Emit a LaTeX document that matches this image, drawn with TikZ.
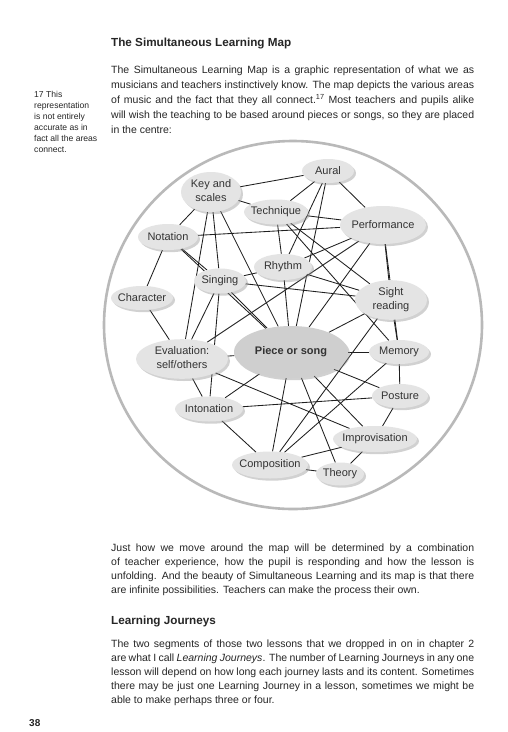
\documentclass[tikz,border=0pt]{standalone}
\usepackage{fontspec}
\setmainfont{Liberation Sans}
\usetikzlibrary{shapes.geometric,shadows,backgrounds}

\definecolor{nodefill}{HTML}{E4E4E4}
\definecolor{piecefill}{HTML}{CFCFCF}
\definecolor{ringcol}{HTML}{B9B9B9}
\definecolor{txt}{HTML}{262626}
\definecolor{lbl}{HTML}{333333}

\newcommand{\jl}[1]{\makebox[363pt][s]{#1}}
\newcommand{\zw}[1]{\makebox[0pt]{#1}}
\newcommand{\twol}[2]{\makebox[0pt]{\begin{tabular}{@{}c@{}}#1\\#2\end{tabular}}}

\tikzset{
  area/.style={ellipse, fill=nodefill, inner sep=0pt, text=lbl,
    font=\fontsize{11}{14}\selectfont,
    drop shadow={shadow xshift=2pt, shadow yshift=-2.2pt, fill=black!45, opacity=0.4}},
  link/.style={draw=black!88, line width=0.85pt},
  ring/.style={draw=ringcol, line width=2.6pt},
  body/.style={anchor=base west, inner sep=0pt, text=txt, font=\fontsize{10.5}{13}\selectfont},
  head/.style={anchor=base west, inner sep=0pt, text=txt, font=\fontsize{11.7}{14}\selectfont\bfseries},
  note/.style={anchor=base west, inner sep=0pt, text=txt, font=\fontsize{8.6}{10}\selectfont},
}

\begin{document}
\begin{tikzpicture}[x=1pt,y=-1pt]
\useasboundingbox (0,0) rectangle (508,732);

% ---------- text ----------
\node[head] (h1) at (111,46.5) {The Simultaneous Learning Map};
\node[body] (p1a) at (111,73) {\jl{The Simultaneous Learning Map is a graphic representation of what we as}};
\node[body] (p1b) at (111,88) {\jl{musicians and teachers instinctively know. The map depicts the various areas}};
\node[body] (p1c) at (111,103) {\jl{of music and the fact that they all connect.\textsuperscript{17} Most teachers and pupils alike}};
\node[body] (p1d) at (111,118) {\jl{will wish the teaching to be based around pieces or songs, so they are placed}};
\node[body] (p1e) at (111,133) {in the centre:};

\node[note] (n1) at (34,97) {17 This};
\node[note] (n2) at (34,108) {representation};
\node[note] (n3) at (34,119) {is not entirely};
\node[note] (n4) at (34,130) {accurate as in};
\node[note] (n5) at (34,141) {fact all the areas};
\node[note] (n6) at (34,152) {connect.};

\node[body] (p2a) at (111,551) {\jl{Just how we move around the map will be determined by a combination}};
\node[body] (p2b) at (111,565) {\jl{of teacher experience, how the pupil is responding and how the lesson is}};
\node[body] (p2c) at (111,579) {\jl{unfolding. And the beauty of Simultaneous Learning and its map is that there}};
\node[body] (p2d) at (111,593) {are infinite possibilities. Teachers can make the process their own.};

\node[head] (h2) at (111,624.5) {Learning Journeys};

\node[body] (p3a) at (111,647) {\jl{The two segments of those two lessons that we dropped in on in chapter 2}};
\node[body] (p3b) at (111,661) {\jl{are what I call \textit{Learning Journeys}. The number of Learning Journeys in any one}};
\node[body] (p3c) at (111,675) {\jl{lesson will depend on how long each journey lasts and its content. Sometimes}};
\node[body] (p3d) at (111,689) {\jl{there may be just one Learning Journey in a lesson, sometimes we might be}};
\node[body] (p3e) at (111,703) {able to make perhaps three or four.};

\node[head, font=\fontsize{10}{12}\selectfont\bfseries] (pg) at (29,726) {38};

% ---------- map nodes ----------
\node[area, minimum width=52pt, minimum height=24pt] (aural) at (328,171) {\zw{Aural}};
\node[area, minimum width=60pt, minimum height=40pt] (key) at (211,192) {\twol{Key and}{scales}};
\node[area, minimum width=64pt, minimum height=25pt] (tech) at (276,212) {\zw{Technique}};
\node[area, minimum width=86pt, minimum height=38pt] (perf) at (383,225) {\zw{Performance}};
\node[area, minimum width=60pt, minimum height=26pt] (nota) at (168,237) {\zw{Notation}};
\node[area, minimum width=58pt, minimum height=26pt] (rhythm) at (283,267) {\zw{Rhythm}};
\node[area, minimum width=52pt, minimum height=25pt] (sing) at (220,281) {\zw{Singing}};
\node[area, minimum width=62pt, minimum height=24pt] (char) at (142,298) {\zw{Character}};
\node[area, minimum width=72pt, minimum height=38pt] (sight) at (391,300) {\twol{Sight}{reading}};
\node[area, minimum width=92pt, minimum height=38pt] (eval) at (182,359) {\twol{Evaluation:}{self/others}};
\node[area, fill=piecefill, minimum width=114pt, minimum height=52pt, font=\fontsize{11}{14}\selectfont\bfseries] (piece) at (291,352) {\zw{Piece or song}};
\node[area, minimum width=60pt, minimum height=24pt] (memory) at (399,352) {\zw{Memory}};
\node[area, minimum width=56pt, minimum height=24pt] (posture) at (400,396) {\zw{Posture}};
\node[area, minimum width=68pt, minimum height=25pt] (inton) at (209,409) {\zw{Intonation}};
\node[area, minimum width=84pt, minimum height=26pt] (improv) at (375,439) {\zw{Improvisation}};
\node[area, minimum width=76pt, minimum height=27pt] (comp) at (270,465) {\zw{Composition}};
\node[area, minimum width=48pt, minimum height=23pt] (theory) at (340,474) {\zw{Theory}};

% ---------- ring and connectors ----------
\begin{scope}[on background layer]
\fill[white] (0,0) rectangle (508,732);
\draw[ring] (293,325) ellipse[x radius=189, y radius=184];
\foreach \a/\b in {key/aural, tech/aural, key/tech, key/nota, key/eval, key/sing, key/piece,
  nota/perf, nota/char, nota/sing, nota/piece, char/eval,
  tech/perf, tech/rhythm, tech/sight, tech/memory,
  aural/perf, aural/rhythm, aural/piece,
  rhythm/sing, rhythm/perf, rhythm/sight, rhythm/piece,
  sing/sight, sing/inton, sing/piece, sing/eval,
  perf/eval, perf/sight, perf/memory, perf/piece,
  sight/memory, sight/piece, sight/comp,
  eval/piece, eval/inton, eval/improv,
  inton/piece, inton/posture, inton/comp,
  comp/piece, comp/memory, comp/improv, comp/theory,
  theory/piece, theory/improv, improv/piece, improv/posture,
  posture/memory, posture/piece, memory/piece}
  \draw[link] (\a) -- (\b);
\end{scope}
\end{tikzpicture}
\end{document}
